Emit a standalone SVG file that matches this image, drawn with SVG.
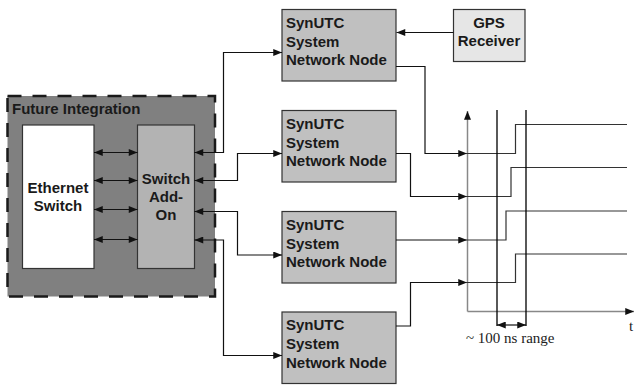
<svg xmlns="http://www.w3.org/2000/svg" width="634" height="385" viewBox="0 0 634 385">
<defs>
<marker id="ah" viewBox="0 0 10 8" refX="10" refY="4" markerWidth="10" markerHeight="7" markerUnits="userSpaceOnUse" orient="auto-start-reverse">
<path d="M0,0 L10,4 L0,8 Z" fill="#111"/>
</marker>
<style>
.b{font-family:"Liberation Sans",Arial,sans-serif;font-weight:bold;font-size:15px;fill:#1a1a1a}
.c{text-anchor:middle}
.node{fill:#c0c0c0;stroke:#333;stroke-width:1.2}
.w{fill:none;stroke:#111;stroke-width:1.2}
.s{fill:none;stroke:#333;stroke-width:1.2}
.serif{font-family:"Liberation Serif","Times New Roman",serif;font-size:15px;fill:#222}
</style>
</defs>
<rect width="634" height="385" fill="#fff"/>

<g id="future-integration">
<rect x="7.5" y="96" width="207.5" height="200.5" fill="#808080" stroke="#1a1a1a" stroke-width="2.5" stroke-dasharray="14,11"/>
<text class="b" x="12" y="114">Future Integration</text>
</g>
<g id="ethernet-switch">
<rect x="22.5" y="125" width="71.5" height="143.5" fill="#fff" stroke="#333" stroke-width="1.2"/>
<text class="b c" x="58" y="192.5">Ethernet</text>
<text class="b c" x="58" y="210.5">Switch</text>
</g>
<g id="switch-addon">
<rect x="137.5" y="125" width="57" height="143.5" fill="#b3b3b3" stroke="#333" stroke-width="1.2"/>
<text class="b c" x="166" y="183.5">Switch</text>
<text class="b c" x="166" y="202">Add-</text>
<text class="b c" x="166" y="220">On</text>
</g>
<g id="node1">
<rect class="node" x="282" y="9.5" width="114" height="71.5"/>
<text class="b" x="286" y="28">SynUTC</text>
<text class="b" x="286" y="46.8">System</text>
<text class="b" x="286" y="65.3">Network Node</text>
</g>
<g id="node2">
<rect class="node" x="282" y="110.5" width="114" height="71.5"/>
<text class="b" x="286" y="128.7">SynUTC</text>
<text class="b" x="286" y="147.5">System</text>
<text class="b" x="286" y="166">Network Node</text>
</g>
<g id="node3">
<rect class="node" x="282" y="211.5" width="114" height="71.5"/>
<text class="b" x="286" y="229.7">SynUTC</text>
<text class="b" x="286" y="248.5">System</text>
<text class="b" x="286" y="267">Network Node</text>
</g>
<g id="node4">
<rect class="node" x="282" y="312" width="114" height="71.5"/>
<text class="b" x="286" y="330.2">SynUTC</text>
<text class="b" x="286" y="349">System</text>
<text class="b" x="286" y="367.5">Network Node</text>
</g>
<g id="gps">
<rect x="453.5" y="9.5" width="71.5" height="52" fill="#e6e6e6" stroke="#333" stroke-width="1.2"/>
<text class="b c" x="489" y="28">GPS</text>
<text class="b c" x="489" y="46">Receiver</text>
</g>

<g id="connectors">
<path class="w" d="M453.5,32.5 H396.5" marker-end="url(#ah)"/>
<path class="w" d="M94,152.5 H137.5" marker-start="url(#ah)" marker-end="url(#ah)"/>
<path class="w" d="M94,180.5 H137.5" marker-start="url(#ah)" marker-end="url(#ah)"/>
<path class="w" d="M94,209.5 H137.5" marker-start="url(#ah)" marker-end="url(#ah)"/>
<path class="w" d="M94,239.5 H137.5" marker-start="url(#ah)" marker-end="url(#ah)"/>
<path class="w" d="M194.5,152.5 H223.5 V52.5 H282" marker-start="url(#ah)" marker-end="url(#ah)"/>
<path class="w" d="M194.5,180.5 H237.5 V153.5 H282" marker-start="url(#ah)" marker-end="url(#ah)"/>
<path class="w" d="M194.5,211.5 H237.5 V255 H282" marker-start="url(#ah)" marker-end="url(#ah)"/>
<path class="w" d="M194.5,240 H223.5 V355.5 H282" marker-start="url(#ah)" marker-end="url(#ah)"/>
<path class="w" d="M396,66.5 H425 V153.5 H467" marker-end="url(#ah)"/>
<path class="w" d="M396,153.5 H410.5 V196.5 H467" marker-end="url(#ah)"/>
<path class="w" d="M396,240 H467" marker-end="url(#ah)"/>
<path class="w" d="M396,326 H410.5 V282.5 H467" marker-end="url(#ah)"/>
</g>

<g id="timing">
<path d="M467.5,311.5 V111" fill="none" stroke="#888" stroke-width="1.5" marker-end="url(#ah)"/>
<path d="M467.5,311.5 H634" fill="none" stroke="#888" stroke-width="1.5" marker-end="url(#ah)"/>
<path class="s" d="M467,153.5 H515.5 V124.5 H627"/>
<path class="s" d="M467,196.5 H511 V167.5 H627"/>
<path class="s" d="M467,240 H506 V211 H627"/>
<path class="s" d="M467,282.5 H515.5 V254 H627"/>
<path d="M497,110 V326 M526,110 V326" fill="none" stroke="#000" stroke-width="1.3"/>
<path class="w" d="M497,325 H526" marker-start="url(#ah)" marker-end="url(#ah)"/>
<text class="serif" x="466" y="343">~ 100 ns range</text>
<text class="serif" x="629" y="331">t</text>
</g>
</svg>
